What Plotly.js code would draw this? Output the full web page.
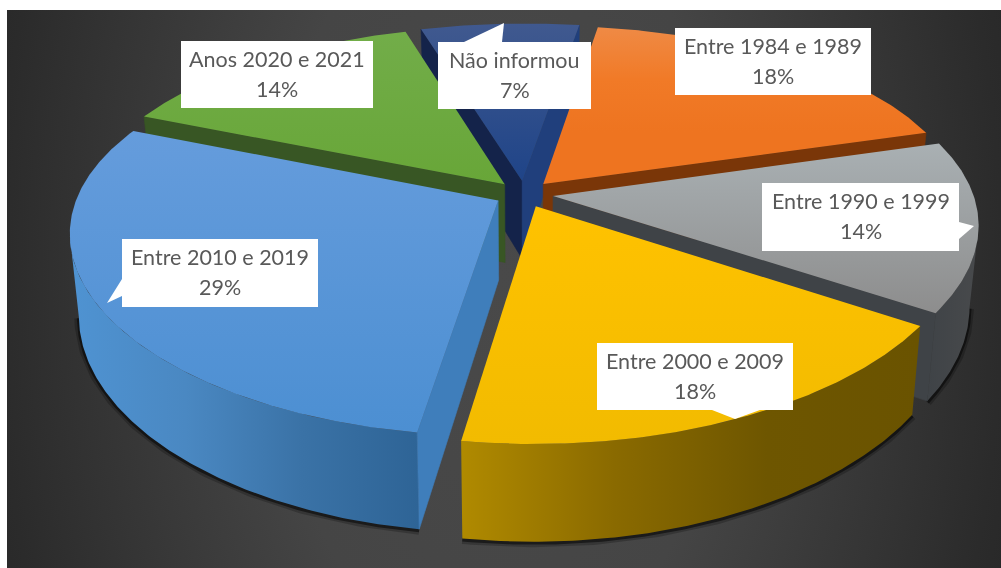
<!DOCTYPE html>
<html><head><meta charset="utf-8">
<script src="https://cdn.plot.ly/plotly-3.0.1.min.js"></script>
<style>
html,body{margin:0;padding:0;background:#fff;width:1001px;height:568px;overflow:hidden}
#panel{position:absolute;left:7px;top:10px;width:994px;height:558px;
background:radial-gradient(ellipse 570px 1000px at 493px 270px,#494949 0%,#454545 40%,#2b2b2b 88%,#262626 100%)}
#chart{position:absolute;left:0;top:0;width:1001px;height:568px;filter:blur(0.5px)}
</style></head><body>
<div id="panel"></div><div id="chart"></div>
<script>
// ---- data, clockwise in the picture's own order, from the start angle
const categories = ["Entre 1984 e 1989","Entre 1990 e 1999","Entre 2000 e 2009","Entre 2010 e 2019","Anos 2020 e 2021","Não informou"];
const percents   = [18,14,18,29,14,7];

// ---- styles
const topColors  = [["#ef8a45","#f17a27","#ee7420","#ee7420"],["#a9b0b3","#8d8d8d"],["#ffc200","#f2bb00"],["#659cdc","#4c8fd2"],["#72ad49","#68a638"],["#40598f","#1f4488"]];
const startFace  = [null,null,null,"#3f7ebb","#385624","#14234a"];
const endFace    = ["#7a3608","#3f4347",null,null,null,"#203f7c"];
const wallStops  = [["#7a3608","#7a3608"],["#3f4347","#484a4c"],["#b08a00","#8a6a00","#6e5600","#6a5300"],["#4f93d2","#4a88c2","#3a72a6","#2e6496"],["#385624","#385624"],["#14234a","#14234a"]];
const drawOrder  = [5,0,4,1,3,2];

// ---- projection of the exploded disc
const startAngle = 343.2+25.2, cx=524, cy=194, Rx=420, Ry=190, persp=0.18, perspX=0.15, shear=4, depth=79, explode=0.07, lowShrink=0.98;
const rad = d=>d*Math.PI/180;
function proj(X,Y,low){
  const w=1/(1+persp*Y), wx=1/(1+perspX*Y);
  return [cx+shear*Y+Rx*X*wx*(low?lowShrink:1), cy-Ry*Y*w+(low?depth*w:0)];
}
const scale = stops=>stops.map((c,i)=>[i/(stops.length-1),c]);
const traces=[];
function poly(pts,name,extra){
  const x=pts.map(p=>p[0]).concat(pts[0][0]), y=pts.map(p=>p[1]).concat(pts[0][1]);
  traces.push(Object.assign({type:"scatter",mode:"lines",x,y,fill:"toself",name,hoverinfo:"skip",showlegend:false,line:{width:0}},extra));
}
const solid=c=>({fillcolor:c,line:{width:0.6,color:c}});
const total=percents.reduce((a,b)=>a+b,0);
let acc=startAngle; const slices=percents.map(p=>{const a0=acc,a1=acc+p/total*360;acc=a1;return[a0,a1];});

drawOrder.forEach(i=>{
  const [a0,a1]=slices[i], mid=rad((a0+a1)/2), ox=explode*Math.sin(mid), oy=explode*Math.cos(mid);
  const P=(th,r,low)=>proj(ox+r*Math.sin(rad(th)),oy+r*Math.cos(rad(th)),low);
  const arc=[],n=Math.ceil(a1-a0)*2; for(let k=0;k<=n;k++)arc.push(a0+(a1-a0)*k/n);
  // outer wall: the part of the rim whose edge runs leftwards on screen
  const vis=arc.filter((t,k)=>k<n? P(arc[k+1],1)[0]<P(t,1)[0] : P(t,1)[0]<P(arc[k-1],1)[0]);
  if(vis.length>1){
    const wall=vis.map(t=>P(t,1,false)).concat(vis.slice().reverse().map(t=>P(t,1,true)));
    const low=vis.map(t=>P(t,1,true));
    traces.push({type:"scatter",mode:"lines",x:low.map(p=>p[0]),y:low.map(p=>p[1]+1),name:categories[i],hoverinfo:"skip",showlegend:false,line:{width:9,color:"rgba(0,0,0,0.22)"}});
    traces.push({type:"scatter",mode:"lines",x:low.map(p=>p[0]),y:low.map(p=>p[1]+1),name:categories[i],hoverinfo:"skip",showlegend:false,line:{width:4,color:"rgba(0,0,0,0.5)"}});
    poly(wall,categories[i],{fillgradient:{type:"horizontal",colorscale:scale(wallStops[i])}});
  }
  const A=[false,true].map(l=>P(0,0,l));
  if(startFace[i]) poly([A[0],P(a0,1,false),P(a0,1,true),A[1]],categories[i],solid(startFace[i]));
  if(endFace[i])   poly([A[0],P(a1,1,false),P(a1,1,true),A[1]],categories[i],solid(endFace[i]));
  poly([A[0]].concat(arc.map(t=>P(t,1,false))),categories[i],
       {fillgradient:{type:"vertical",colorscale:scale(topColors[i].slice().reverse())}});
});

// ---- labels
const boxes=[[675,28,871,95],[762,183,959,251],[597,343,793,410],[122,239,318,307],[181,41,373,108],[438,42,591,109]];
const tails=[null,[[959,222],[974,226],[959,239]],[[712,410],[735,419],[760,410]],[[122,279],[107,303],[122,296]],null,[[464,42],[504,23],[502,42]]];
const shapes=[],annotations=[];
categories.forEach((c,i)=>{
  const b=boxes[i];
  shapes.push({type:"rect",xref:"x",yref:"y",x0:b[0],y0:b[1],x1:b[2],y1:b[3],fillcolor:"#fff",line:{width:0},layer:"above"});
  if(tails[i]) shapes.push({type:"path",xref:"x",yref:"y",path:"M"+tails[i].map(p=>p.join(",")).join("L")+"Z",fillcolor:"#fff",line:{width:0},layer:"above"});
  const f={family:"Lato, 'Noto Sans', sans-serif",size:21.5,color:"#595959"};
  const mx=(b[0]+b[2])/2;
  annotations.push({x:mx,y:b[1]+18,xref:"x",yref:"y",text:c,showarrow:false,font:f,xanchor:"center",yanchor:"middle"});
  annotations.push({x:mx,y:b[1]+48,xref:"x",yref:"y",text:percents[i]+"%",showarrow:false,font:f,xanchor:"center",yanchor:"middle"});
});

Plotly.newPlot("chart",traces,{
  width:1001,height:568,margin:{l:0,r:0,t:0,b:0},
  paper_bgcolor:"rgba(0,0,0,0)",plot_bgcolor:"rgba(0,0,0,0)",showlegend:false,
  xaxis:{range:[0,1001],visible:false,fixedrange:true},
  yaxis:{range:[568,0],visible:false,fixedrange:true},
  shapes,annotations
},{displayModeBar:false,staticPlot:true});
</script></body></html>
